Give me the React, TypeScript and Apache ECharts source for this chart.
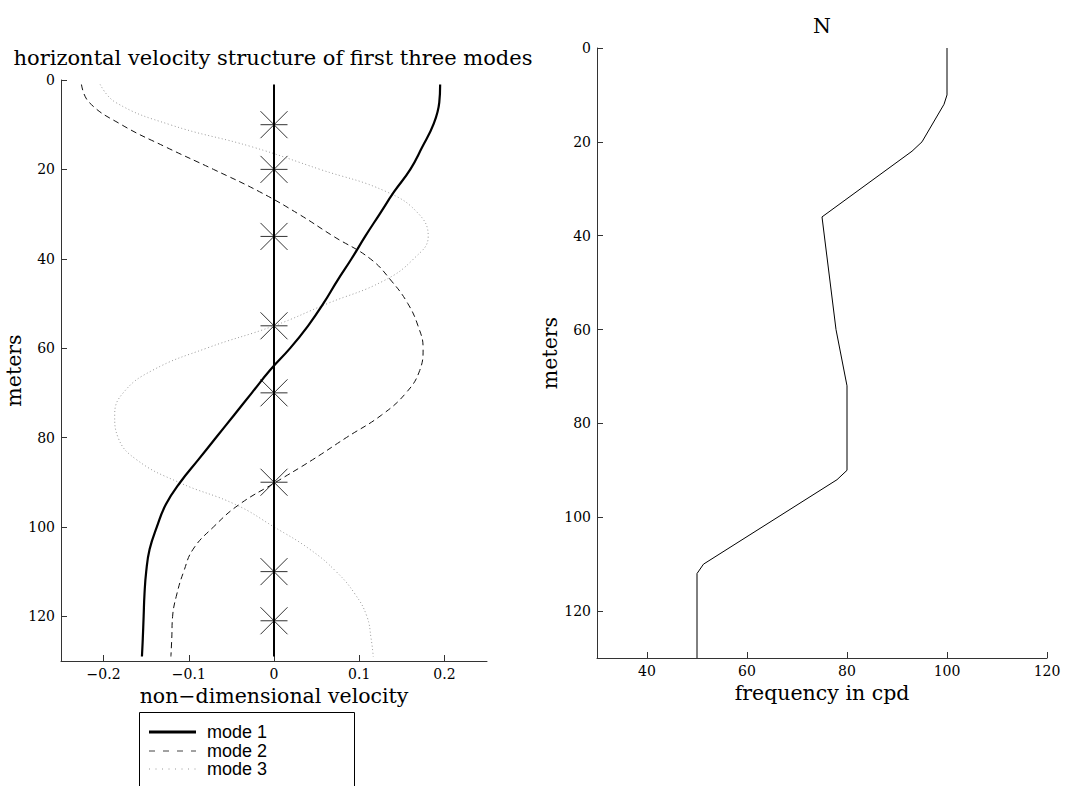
import React, { useEffect, useRef } from 'react';
import * as echarts from 'echarts';

// depth (m) grid for mode shapes
const DEPTHS = [1, 5, 10, 15, 20, 25, 30, 35, 40, 45, 50, 55, 60, 65, 70, 75, 80, 85, 90, 95, 100, 105, 110, 115, 120, 125, 129];
const MODE1 = [0.195, 0.194, 0.187, 0.174, 0.160, 0.141, 0.124, 0.107, 0.091, 0.074, 0.058, 0.040, 0.019, -0.005, -0.026, -0.047, -0.068, -0.089, -0.110, -0.127, -0.1375, -0.146, -0.150, -0.152, -0.153, -0.154, -0.155];
const MODE2 = [-0.226, -0.217, -0.179, -0.127, -0.071, -0.017, 0.029, 0.070, 0.113, 0.138, 0.157, 0.169, 0.175, 0.171, 0.155, 0.126, 0.085, 0.045, 0.002, -0.041, -0.071, -0.095, -0.106, -0.114, -0.119, -0.120, -0.121];
const MODE3 = [-0.204, -0.186, -0.122, -0.025, 0.054, 0.132, 0.170, 0.181, 0.164, 0.128, 0.063, 0.000, -0.079, -0.143, -0.177, -0.187, -0.183, -0.161, -0.112, -0.045, 0.000, 0.042, 0.073, 0.095, 0.109, 0.114, 0.1165];
const SENSOR_DEPTHS = [10, 20, 35, 55, 70, 90, 110, 121];
const ZERO_LINE_DEPTHS = [1, 129];

// buoyancy frequency profile
const N_DEPTH = [0, 10, 12, 20, 22, 36, 60, 72, 90, 92, 110, 112, 130];
const N_FREQ = [100, 100, 99.4, 95, 93, 75, 77.8, 80, 80, 78, 51.3, 50, 50];

const VEL_TICKS = [-0.2, -0.1, 0, 0.1, 0.2];
const FREQ_TICKS = [40, 60, 80, 100, 120];
const DEPTH_TICKS = [0, 20, 40, 60, 80, 100, 120];

const SERIF = 'DejaVu Serif';
const SANS = 'Liberation Sans';

const fmt = (v: number) => (v < 0 ? '\u2212' + String(Math.abs(v)) : String(v));

function axisBase(ticks: number[]) {
  return {
    axisLine: { onZero: false, lineStyle: { color: '#333', width: 1 } },
    axisTick: { inside: true, length: 6, lineStyle: { color: '#333' }, customValues: ticks },
    axisLabel: { customValues: ticks, color: '#000', fontFamily: SERIF, fontSize: 14, margin: 6, formatter: fmt },
    splitLine: { show: false },
  };
}

export default function App() {
  const ref = useRef<HTMLDivElement>(null);
  useEffect(() => {
    document.body.style.margin = '0';
    const chart = echarts.init(ref.current!, null, { renderer: 'svg' });
    const nameStyle = { fontFamily: SERIF, fontSize: 20.5, color: '#000' };
    const curve = { type: 'line', xAxisIndex: 0, yAxisIndex: 0, symbol: 'none', smooth: 0.45 };
    const option: any = {
      animation: false,
      backgroundColor: '#fff',
      grid: [
        { left: 61, top: 80, width: 426, height: 581 },
        { left: 597, top: 48, width: 450, height: 610 },
      ],
      xAxis: [
        {
          gridIndex: 0, type: 'value', min: -0.25, max: 0.25, position: 'bottom',
          name: 'non\u2212dimensional velocity', nameLocation: 'middle', nameGap: 20, nameTextStyle: nameStyle,
          ...axisBase(VEL_TICKS),
        },
        {
          gridIndex: 1, type: 'value', min: 30, max: 120, position: 'bottom',
          name: 'frequency in cpd', nameLocation: 'middle', nameGap: 23, nameTextStyle: nameStyle,
          ...axisBase(FREQ_TICKS),
        },
      ],
      yAxis: [
        {
          gridIndex: 0, type: 'value', min: 0, max: 130, inverse: true, position: 'left',
          name: 'meters', nameLocation: 'middle', nameGap: 33, nameRotate: 90, nameTextStyle: nameStyle,
          ...axisBase(DEPTH_TICKS),
        },
        {
          gridIndex: 1, type: 'value', min: 0, max: 130, inverse: true, position: 'left',
          name: 'meters', nameLocation: 'middle', nameGap: 34, nameRotate: 90, nameTextStyle: nameStyle,
          ...axisBase(DEPTH_TICKS),
        },
      ],
      series: [
        {
          ...curve, name: 'mode 3',
          data: DEPTHS.map((d, i) => [MODE3[i], d]),
          lineStyle: { color: '#999', width: 1, type: [1, 2.5] },
        },
        {
          ...curve, name: 'mode 2',
          data: DEPTHS.map((d, i) => [MODE2[i], d]),
          lineStyle: { color: '#111', width: 1, type: [6, 4] },
        },
        {
          ...curve, name: 'mode 1',
          data: DEPTHS.map((d, i) => [MODE1[i], d]),
          lineStyle: { color: '#000', width: 2.2 },
        },
        {
          name: 'zero', type: 'line', xAxisIndex: 0, yAxisIndex: 0, symbol: 'none',
          data: ZERO_LINE_DEPTHS.map((d) => [0, d]),
          lineStyle: { color: '#000', width: 2 },
        },
        {
          name: 'sensors', type: 'custom', xAxisIndex: 0, yAxisIndex: 0,
          data: SENSOR_DEPTHS.map((d) => [0, d]),
          encode: { x: 0, y: 1 },
          renderItem: (params: any, api: any) => {
            const p = api.coord([api.value(0), api.value(1)]);
            const r = 13.5;
            const style = { stroke: '#333', lineWidth: 1, fill: null };
            return {
              type: 'group',
              children: [
                { type: 'line', shape: { x1: p[0] - r, y1: p[1], x2: p[0] + r, y2: p[1] }, style },
                { type: 'line', shape: { x1: p[0] - r, y1: p[1] - r, x2: p[0] + r, y2: p[1] + r }, style },
                { type: 'line', shape: { x1: p[0] - r, y1: p[1] + r, x2: p[0] + r, y2: p[1] - r }, style },
                { type: 'line', shape: { x1: p[0], y1: p[1] - r, x2: p[0], y2: p[1] + r }, style },
              ],
            };
          },
        },
        {
          name: 'N', type: 'line', xAxisIndex: 1, yAxisIndex: 1, symbol: 'none',
          data: N_DEPTH.map((d, i) => [N_FREQ[i], d]),
          lineStyle: { color: '#000', width: 1 },
        },
      ],
      graphic: [
        {
          type: 'text', x: 273, y: 58,
          style: { text: 'horizontal velocity structure of first three modes', align: 'center', verticalAlign: 'middle', fontFamily: SERIF, fontSize: 21, fill: '#000' },
        },
        {
          type: 'text', x: 822, y: 26,
          style: { text: 'N', align: 'center', verticalAlign: 'middle', fontFamily: SERIF, fontSize: 20.5, fill: '#000' },
        },
        {
          type: 'rect', shape: { x: 139.5, y: 712.5, width: 215, height: 120 },
          style: { fill: '#fff', stroke: '#000', lineWidth: 1 },
        },
        { type: 'line', shape: { x1: 149, y1: 732, x2: 196, y2: 732 }, style: { stroke: '#000', lineWidth: 3 } },
        { type: 'line', shape: { x1: 149, y1: 751, x2: 196, y2: 751 }, style: { stroke: '#444', lineWidth: 1, lineDash: [6, 8] } },
        { type: 'line', shape: { x1: 149, y1: 769, x2: 196, y2: 769 }, style: { stroke: '#999', lineWidth: 1, lineDash: [1, 5.5] } },
        { type: 'text', x: 207, y: 732, style: { text: 'mode 1', verticalAlign: 'middle', fontFamily: SANS, fontSize: 18, fill: '#000' } },
        { type: 'text', x: 207, y: 750.5, style: { text: 'mode 2', verticalAlign: 'middle', fontFamily: SANS, fontSize: 18, fill: '#000' } },
        { type: 'text', x: 207, y: 769, style: { text: 'mode 3', verticalAlign: 'middle', fontFamily: SANS, fontSize: 18, fill: '#000' } },
      ],
    };
    chart.setOption(option);
    return () => chart.dispose();
  }, []);
  return <div ref={ref} style={{ width: 1066, height: 786 }} />;
}
